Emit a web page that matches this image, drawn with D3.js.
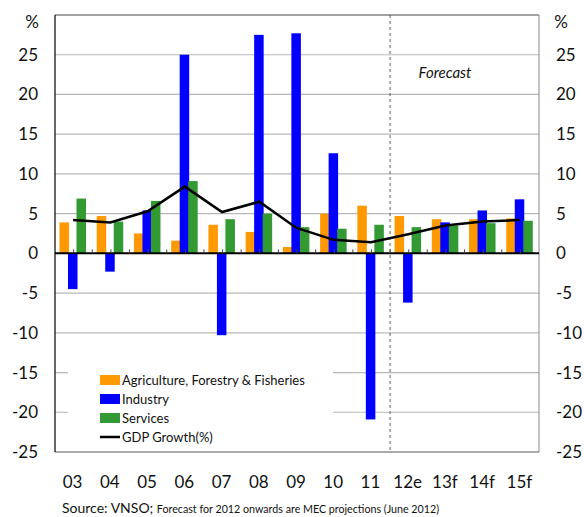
<!DOCTYPE html>
<html>
<head>
<meta charset="utf-8">
<script src="https://cdn.jsdelivr.net/npm/d3@7"></script>
<style>
  body { margin: 0; background: #fff; }
  text { font-family: Lato, "Open Sans", sans-serif; fill: #111; }
</style>
</head>
<body>
<div id="container"></div>
<script>
const categories = ['03', '04', '05', '06', '07', '08', '09', '10', '11', '12e', '13f', '14f', '15f']
const agriculture = [3.9, 4.7, 2.5, 1.6, 3.6, 2.7, 0.8, 5.0, 6.0, 4.7, 4.3, 4.3, 4.4]
const industry = [-4.5, -2.3, 5.4, 25.0, -10.3, 27.5, 27.7, 12.6, -20.9, -6.2, 3.9, 5.4, 6.8]
const services = [6.9, 4.0, 6.6, 9.1, 4.3, 5.0, 3.3, 3.1, 3.6, 3.3, 3.5, 3.8, 4.1]
const gdpGrowth = [4.2, 3.9, 5.3, 8.4, 5.2, 6.5, 3.2, 1.7, 1.4, 2.4, 3.5, 4.0, 4.2]
const yTicks = [-25, -20, -15, -10, -5, 0, 5, 10, 15, 20, 25]
const seriesNames = ['Agriculture, Forestry & Fisheries', 'Industry', 'Services', 'GDP Growth(%)']
const colors = ['#ff9900', '#0000ff', '#339933', '#000']

const width = 584
const height = 517
const plot = { left: 55, right: 539, top: 15, bottom: 452 }

const svg = d3.select('#container')
  .append('svg')
  .attr('width', width)
  .attr('height', height)

const x = d3.scaleBand().domain(categories).range([plot.left, plot.right])
const y = d3.scaleLinear().domain([-25, 30]).range([plot.bottom, plot.top])
const inner = d3.scaleBand().domain(['a', 'i', 's']).range([5, 30.5])
const barW = 9.5

// gridlines
svg.append('g')
  .selectAll('line')
  .data(yTicks.filter(d => d !== 0 && d !== -25))
  .enter().append('line')
  .attr('x1', plot.left).attr('x2', plot.right)
  .attr('y1', d => y(d)).attr('y2', d => y(d))
  .style('stroke', '#b8b8b8')
  .style('stroke-width', 1.2)

// frame
svg.append('line').attr('x1', plot.left).attr('x2', plot.right).attr('y1', plot.top).attr('y2', plot.top)
  .style('stroke', '#444').style('stroke-width', 1)
svg.append('line').attr('x1', plot.right).attr('x2', plot.right).attr('y1', plot.top).attr('y2', plot.bottom)
  .style('stroke', '#888').style('stroke-width', 1)
svg.append('line').attr('x1', plot.left).attr('x2', plot.right).attr('y1', plot.bottom).attr('y2', plot.bottom)
  .style('stroke', '#555').style('stroke-width', 1)
svg.append('line').attr('x1', plot.left).attr('x2', plot.left).attr('y1', plot.top).attr('y2', plot.bottom)
  .style('stroke', '#000').style('stroke-width', 1.2)

// legend background hides gridlines
svg.append('rect')
  .attr('x', 68).attr('y', 362).attr('width', 265).attr('height', 84)
  .style('fill', '#fff')

// forecast divider
svg.append('line')
  .attr('x1', x('12e')).attr('x2', x('12e'))
  .attr('y1', plot.top).attr('y2', plot.bottom)
  .style('stroke', '#333').style('stroke-width', 0.8)
  .style('stroke-dasharray', '3,3')

svg.append('text')
  .attr('x', 445).attr('y', 78)
  .attr('text-anchor', 'middle')
  .style('font-size', '15px').style('font-style', 'italic')
  .text('Forecast')

// bars
const series = [
  { key: 'a', values: agriculture, color: colors[0] },
  { key: 'i', values: industry, color: colors[1] },
  { key: 's', values: services, color: colors[2] }
]
series.forEach(s => {
  svg.append('g')
    .selectAll('rect')
    .data(s.values)
    .enter().append('rect')
    .attr('x', (d, i) => x(categories[i]) + inner(s.key) + inner.bandwidth() / 2 - barW / 2)
    .attr('y', d => y(Math.max(0, d)))
    .attr('width', barW)
    .attr('height', d => Math.abs(y(d) - y(0)))
    .style('fill', s.color)
})

// zero line and small ticks
svg.append('line').attr('x1', plot.left).attr('x2', plot.right).attr('y1', y(0)).attr('y2', y(0))
  .style('stroke', '#000').style('stroke-width', 2)

const tickXs = []
categories.forEach(c => { tickXs.push(x(c)); tickXs.push(x(c) + x.bandwidth() / 2) })
svg.append('g')
  .selectAll('line')
  .data(tickXs.slice(1))
  .enter().append('line')
  .attr('x1', d => d).attr('x2', d => d)
  .attr('y1', y(0)).attr('y2', y(0) - 4)
  .style('stroke', '#444').style('stroke-width', 1)

// GDP line
const line = d3.line()
  .x((d, i) => x(categories[i]) + x.bandwidth() / 2 - 0.5)
  .y(d => y(d))
svg.append('path')
  .datum(gdpGrowth)
  .attr('d', line)
  .style('fill', 'none')
  .style('stroke', '#000')
  .style('stroke-width', 2.5)

// y axes labels
const leftAxis = svg.append('g')
leftAxis.selectAll('text')
  .data(yTicks)
  .enter().append('text')
  .attr('x', 38).attr('y', d => y(d) + 6)
  .attr('text-anchor', 'end')
  .style('font-size', '17px')
  .text(d => d)
svg.append('text').attr('x', 32).attr('y', 28).attr('text-anchor', 'middle')
  .style('font-size', '17px').text('%')

const rightAxis = svg.append('g')
rightAxis.selectAll('text')
  .data(yTicks)
  .enter().append('text')
  .attr('x', 556).attr('y', d => y(d) + 6)
  .attr('text-anchor', 'start')
  .style('font-size', '17px')
  .text(d => d)
svg.append('text').attr('x', 561).attr('y', 28).attr('text-anchor', 'middle')
  .style('font-size', '17px').text('%')

// x labels
svg.append('g')
  .selectAll('text')
  .data(categories)
  .enter().append('text')
  .attr('x', d => x(d) + x.bandwidth() / 2 - 1)
  .attr('y', 488)
  .attr('text-anchor', 'middle')
  .style('font-size', '17px')
  .text(d => d)

// legend
const legend = svg.append('g').attr('transform', 'translate(100, 380)')
seriesNames.forEach((name, i) => {
  const row = legend.append('g').attr('transform', `translate(0, ${i * 19})`)
  if (i < 3) {
    row.append('rect').attr('x', 0).attr('y', -5).attr('width', 20).attr('height', 10)
      .style('fill', colors[i])
  } else {
    row.append('line').attr('x1', 0).attr('x2', 20).attr('y1', 0).attr('y2', 0)
      .style('stroke', '#000').style('stroke-width', 2.5)
  }
  row.append('text').attr('x', 22).attr('y', 5)
    .style('font-size', '13px')
    .text(name)
})

// source note
const src = svg.append('text').attr('x', 62).attr('y', 513)
src.append('tspan').style('font-size', '14px').text('Source: VNSO; ')
src.append('tspan').style('font-size', '10.7px').text('Forecast for 2012 onwards are MEC projections (June 2012)')
</script>
</body>
</html>
